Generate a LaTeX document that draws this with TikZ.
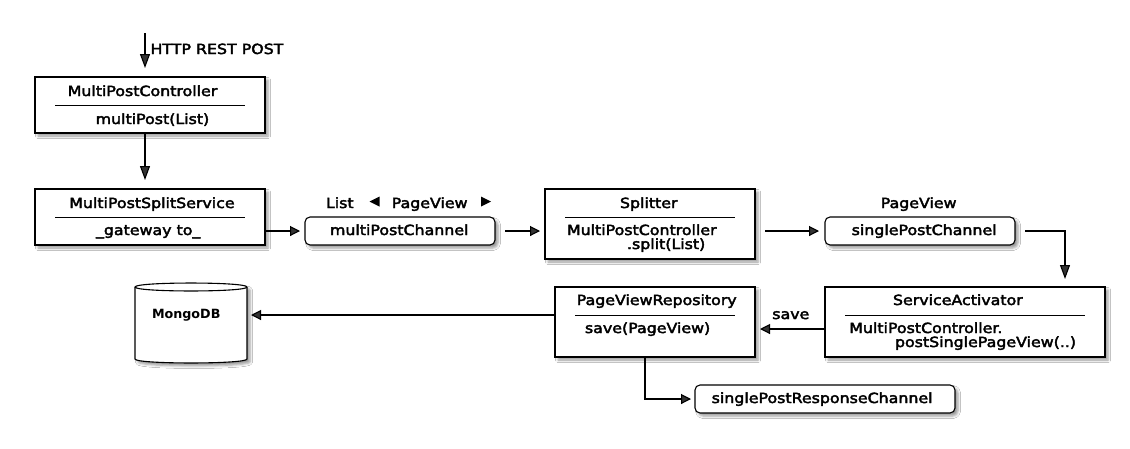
\documentclass[tikz,border=0pt]{standalone}
\usepackage{fontspec}
\setmainfont{DejaVu Sans}
\newfontfamily\ditaafont{DejaVu Sans}[FakeStretch=1.13,FakeBold=2.8]
\usetikzlibrary{arrows.meta,shadows.blur}
\begin{document}
\begin{tikzpicture}[x=1pt,y=-1pt,
  every node/.style={inner sep=0pt,outer sep=0pt},
  shade/.style={blur shadow={shadow xshift=3pt,shadow yshift=-3pt,shadow blur radius=2.5pt,shadow opacity=40}},
  box/.style={draw,line width=1.1pt,fill=white,shade},
  chan/.style={box,rounded corners=5pt},
  txt/.style={anchor=base west,font=\fontsize{14}{14}\ditaafont},
  small/.style={anchor=base west,font=\fontsize{12.7}{12.7}\selectfont\bfseries},
  divider/.style={line width=1pt},
  link/.style={line width=1.1pt},
  harrow/.style={link,-{Triangle[length=10pt,width=10pt]}},
  varrow/.style={link,-{Triangle[length=14pt,width=10pt]}},
]
\useasboundingbox[fill=white] (0,0) rectangle (1130,448);

% boxes
\node[box,minimum width=230pt,minimum height=56pt] (mpc) at (150,105) {};
\node[box,minimum width=230pt,minimum height=56pt] (mpss) at (150,217) {};
\node[chan,minimum width=190pt,minimum height=28pt] (mpch) at (400,231) {};
\node[box,minimum width=210pt,minimum height=70pt] (spl) at (650,224) {};
\node[chan,minimum width=190pt,minimum height=28pt] (spch) at (920,231) {};
\node[box,minimum width=280pt,minimum height=70pt] (sa) at (965,322) {};
\node[box,minimum width=200pt,minimum height=70pt] (pvr) at (655,322) {};
\node[chan,minimum width=260pt,minimum height=28pt] (resp) at (825,399) {};

% MongoDB cylinder
\draw[line width=1.1pt,fill=white,shade]
  (135,287) -- (135,359) .. controls (135,364.3) and (247,364.3) .. (247,359)
  -- (247,287) .. controls (247,281.7) and (135,281.7) .. cycle;
\draw[line width=1.1pt] (135,287) .. controls (135,292.3) and (247,292.3) .. (247,287);
\node[minimum width=112pt,minimum height=72pt] (mongo) at (191,323) {};

% dividers
\draw[divider] (55,105) -- (245,105);
\draw[divider] (55,217) -- (245,217);
\draw[divider] (565,217) -- (735,217);
\draw[divider] (845,315) -- (1085,315);
\draw[divider] (575,315) -- (735,315);

% texts
\node[txt] (thttp) at (150.5,54) {HTTP REST POST};
\node[txt] (tmpc1) at (67.7,96) {MultiPostController};
\node[txt] (tmpc2) at (95.7,124) {multiPost(List)};
\node[txt] (tmpss1) at (69.3,208) {MultiPostSplitService};
\node[txt] (tmpss2) at (96,235) {\_gateway to\_};
\node[txt] (tlist) at (326,208) {List};
\fill (369.5,201.5) -- (379.5,196.5) -- (379.5,206.5) -- cycle;
\node[txt] (tpv1) at (391.7,208) {PageView};
\fill (491,201.5) -- (481,196.5) -- (481,206.5) -- cycle;
\node[txt] (tmpch) at (330,235) {multiPostChannel};
\node[txt] (tspl1) at (620,208) {Splitter};
\node[txt] (tspl2) at (567,235) {MultiPostController};
\node[txt] (tspl3) at (627,249) {.split(List)};
\node[txt] (tpv2) at (880.7,208) {PageView};
\node[txt] (tspch) at (851.7,235) {singlePostChannel};
\node[txt] (tsa1) at (893,305) {ServiceActivator};
\node[txt] (tsa2) at (849.3,333) {MultiPostController.};
\node[txt] (tsa3) at (895,347) {postSinglePageView(..)};
\node[txt] (tsave) at (772.3,319) {save};
\node[txt] (tpvr1) at (576.7,305) {PageViewRepository};
\node[txt] (tpvr2) at (585,333) {save(PageView)};
\node[small] (tmongo) at (152,318) {MongoDB};
\node[txt] (tresp) at (711.7,403) {singlePostResponseChannel};

% connectors
\coordinate (httpin) at (145,33);
\draw[varrow,shorten >=9pt] (httpin) -- (mpc.north -| httpin);
\draw[varrow,shorten >=9pt] (mpc.south -| httpin) -- (mpss.north -| httpin);
\draw[harrow,shorten >=5pt] (mpss.east |- mpch) -- (mpch.west);
\draw[harrow,shorten <=10pt,shorten >=5pt] (mpch.east) -- (spl.west |- mpch);
\draw[harrow,shorten <=10pt,shorten >=6pt] (spl.east |- spch) -- (spch.west);
\coordinate (turn) at (1065,231);
\draw[varrow,shorten >=8pt] ([xshift=10pt]spch.east) -- (turn) -- (turn |- sa.north);
\draw[harrow,shorten >=5pt] ([yshift=-7pt]sa.west) -- ([yshift=-7pt]pvr.east);
\draw[harrow,shorten >=4pt] ([yshift=7pt]pvr.west) coordinate (pw) -- (pw -| mongo.east);
\draw[harrow,shorten >=4pt] ([xshift=-10pt]pvr.south) |- (resp.west);
\end{tikzpicture}
\end{document}
